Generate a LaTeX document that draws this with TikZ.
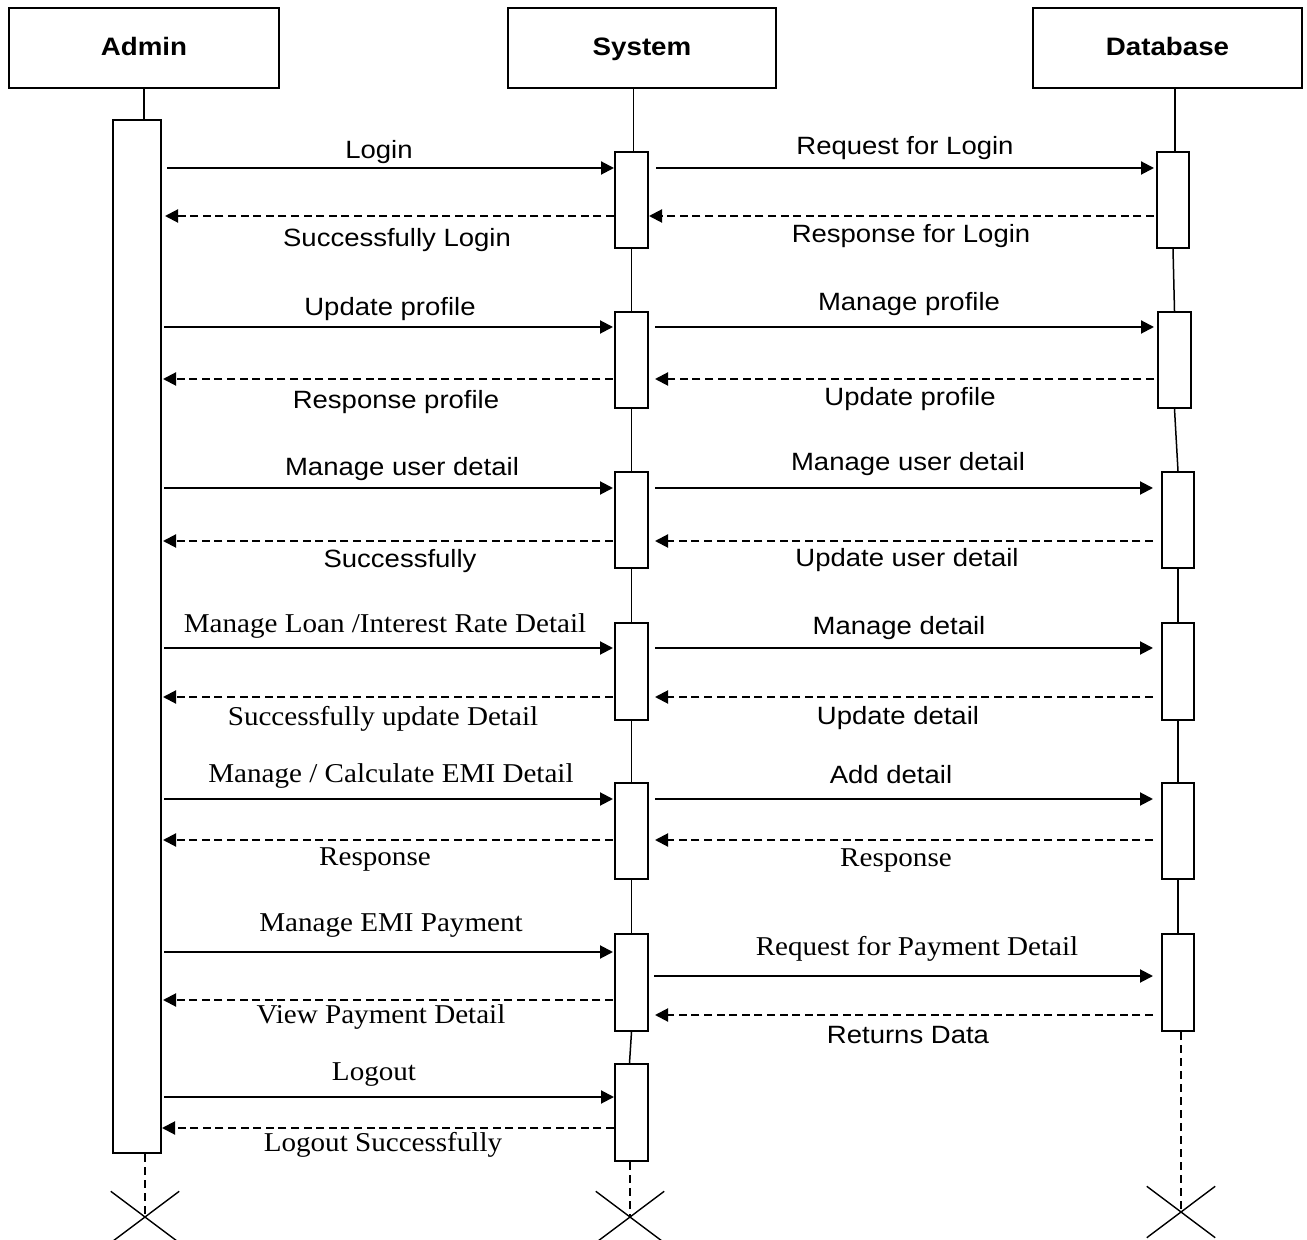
\documentclass[tikz,border=0pt]{standalone}
\usepackage{fontspec}
\setmainfont{Liberation Sans}
\newfontfamily\lsans[FakeStretch=1.1]{Liberation Sans}
\newfontfamily\lserif[FakeStretch=1.07]{Liberation Serif}
\usetikzlibrary{arrows.meta,shapes.misc}

\begin{document}
\begin{tikzpicture}[x=0.5pt,y=-0.5pt,
  actor/.style={draw,line width=1pt,minimum height=40pt,inner sep=0pt,
    text height=0.72em,text depth=0pt,
    font=\lsans\fontsize{12.6pt}{15pt}\selectfont\bfseries},
  act/.style={draw,line width=1pt,fill=white,inner sep=0pt,minimum width=16.5pt,minimum height=48pt},
  life/.style={line width=0.75pt},
  lifeend/.style={line width=0.8pt,dash pattern=on 4pt off 2.5pt},
  kill/.style={cross out,draw,line width=0.7pt,inner sep=0pt,minimum width=33.5pt,minimum height=25pt},
  call/.style={line width=1pt,-{Triangle[length=6.5pt,width=6.5pt]}},
  reply/.style={line width=1pt,dash pattern=on 4pt off 2.3pt,-{Triangle[length=6.5pt,width=6.5pt]}},
  sl/.style={inner sep=0pt,text height=0.72em,text depth=0pt,font=\lsans\fontsize{12.5pt}{15pt}\selectfont},
  tl/.style={inner sep=0pt,text height=0.66em,text depth=0pt,font=\lserif\fontsize{13.6pt}{16pt}\selectfont},
]
\useasboundingbox (0,0) rectangle (1307,1240);

% participants
\node[actor,minimum width=135pt]   (admin) at (144,48)    {Admin};
\node[actor,minimum width=134pt]   (sys)   at (642,48)    {System};
\node[actor,minimum width=134.5pt] (db)    at (1167.5,48) {Database};

% activation bars
\node[act,minimum width=24pt,minimum height=516.5pt] (aa) at (137,636.5) {};

\node[act] (s1) at (631.5,200) {};
\node[act] (s2) at (631.5,360) {};
\node[act] (s3) at (631.5,520) {};
\node[act,minimum height=48.5pt] (s4) at (631.5,671.5) {};
\node[act] (s5) at (631.5,831) {};
\node[act,minimum height=48.5pt] (s6) at (631.5,982.5) {};
\node[act,minimum height=48.5pt] (s7) at (631.5,1112.5) {};

\node[act,minimum width=16pt] (d1) at (1173,200) {};
\node[act] (d2) at (1174.5,360) {};
\node[act,minimum width=16pt] (d3) at (1178,520) {};
\node[act,minimum width=16pt,minimum height=48.5pt] (d4) at (1178,671.5) {};
\node[act,minimum width=16pt] (d5) at (1178,831) {};
\node[act,minimum width=16pt,minimum height=48.5pt] (d6) at (1178,982.5) {};

% destruction marks
\node[kill] (xa) at (145,1217) {};
\node[kill] (xs) at (630,1217) {};
\node[kill] (xd) at (1181,1212) {};

% lifelines
\draw[life] (admin.south) -- (admin.south |- aa.north);
\draw[life] ([xshift=1pt]s1.north) -- ([xshift=1pt]sys.south -| s1.north);
\draw[life] (s1.south) -- (s2.north);
\draw[life] (s2.south) -- (s3.north);
\draw[life] (s3.south) -- (s4.north);
\draw[life] (s4.south) -- (s5.north);
\draw[life] (s5.south) -- (s6.north);
\draw[life] (s6.south) -- ([xshift=-1pt]s7.north);
\draw[life] ([xshift=1pt]d1.north) -- ([xshift=1pt]db.south -| d1.north);
\draw[life] (d1.south) -- (d2.north);
\draw[life] (d2.south) -- (d3.north);
\draw[life] (d3.south) -- (d4.north);
\draw[life] (d4.south) -- (d5.north);
\draw[life] (d5.south) -- (d6.north);
\draw[lifeend] (xa |- aa.south) -- (xa.center);
\draw[lifeend] (xs |- s7.south) -- (xs.center);
\draw[lifeend] (xd |- d6.south) -- (xd.center);

% message rows
\coordinate (r1) at (0,168);  \coordinate (q1) at (0,216);
\coordinate (r2) at (0,327);  \coordinate (q2) at (0,379);
\coordinate (r3) at (0,488);  \coordinate (q3) at (0,541);
\coordinate (r4) at (0,648);  \coordinate (q4) at (0,697);
\coordinate (r5) at (0,799);  \coordinate (q5) at (0,840);
\coordinate (r6) at (0,952);  \coordinate (t6) at (0,976);
\coordinate (q6) at (0,1000); \coordinate (u6) at (0,1015);
\coordinate (r7) at (0,1097); \coordinate (q7) at (0,1128);

% Login
\draw[call,shorten <=2.5pt] (aa.east |- r1) -- (s1.west |- r1);
\draw[call,shorten <=3.5pt,shorten >=1pt] (s1.east |- r1) -- (d1.west |- r1);
\draw[reply,shorten >=1.5pt] (s1.west |- q1) -- (aa.east |- q1);
\draw[reply,shorten <=1pt] (d1.west |- q1) -- (s1.east |- q1);
% profile
\draw[call,shorten <=1pt,shorten >=0.5pt] (aa.east |- r2) -- (s2.west |- r2);
\draw[call,shorten <=3pt,shorten >=1.5pt] (s2.east |- r2) -- (d2.west |- r2);
\draw[reply,shorten <=0.5pt,shorten >=0.5pt] (s2.west |- q2) -- (aa.east |- q2);
\draw[reply,shorten <=1.5pt,shorten >=3pt] (d2.west |- q2) -- (s2.east |- q2);
% user detail
\draw[call,shorten <=1pt,shorten >=0.5pt] (aa.east |- r3) -- (s3.west |- r3);
\draw[call,shorten <=3pt,shorten >=4pt] (s3.east |- r3) -- (d3.west |- r3);
\draw[reply,shorten <=0.5pt,shorten >=0.5pt] (s3.west |- q3) -- (aa.east |- q3);
\draw[reply,shorten <=4pt,shorten >=3pt] (d3.west |- q3) -- (s3.east |- q3);
% loan / interest rate
\draw[call,shorten <=1pt,shorten >=0.5pt] (aa.east |- r4) -- (s4.west |- r4);
\draw[call,shorten <=3pt,shorten >=4pt] (s4.east |- r4) -- (d4.west |- r4);
\draw[reply,shorten <=0.5pt,shorten >=0.5pt] (s4.west |- q4) -- (aa.east |- q4);
\draw[reply,shorten <=4pt,shorten >=3pt] (d4.west |- q4) -- (s4.east |- q4);
% EMI
\draw[call,shorten <=1pt,shorten >=0.5pt] (aa.east |- r5) -- (s5.west |- r5);
\draw[call,shorten <=3pt,shorten >=4pt] (s5.east |- r5) -- (d5.west |- r5);
\draw[reply,shorten <=0.5pt,shorten >=0.5pt] (s5.west |- q5) -- (aa.east |- q5);
\draw[reply,shorten <=4pt,shorten >=3pt] (d5.west |- q5) -- (s5.east |- q5);
% payment
\draw[call,shorten <=1pt,shorten >=0.5pt] (aa.east |- r6) -- (s6.west |- r6);
\draw[call,shorten <=2.5pt,shorten >=4pt] (s6.east |- t6) -- (d6.west |- t6);
\draw[reply,shorten <=0.5pt,shorten >=0.5pt] (s6.west |- q6) -- (aa.east |- q6);
\draw[reply,shorten <=4pt,shorten >=3pt] (d6.west |- u6) -- (s6.east |- u6);
% logout
\draw[call,shorten <=1pt] (aa.east |- r7) -- (s7.west |- r7);
\draw[reply] (s7.west |- q7) -- (aa.east |- q7);

% labels
\node[sl] (l1)  at (379,151)  {Login};
\node[sl] (l2)  at (905,147)  {Request for Login};
\node[sl] (l3)  at (397,239)  {Successfully Login};
\node[sl] (l4)  at (911,235)  {Response for Login};
\node[sl] (l5)  at (390,308)  {Update profile};
\node[sl] (l6)  at (909,303)  {Manage profile};
\node[sl] (l7)  at (396,401)  {Response profile};
\node[sl] (l8)  at (910,398)  {Update profile};
\node[sl] (l9)  at (402,468)  {Manage user detail};
\node[sl] (l10) at (908,463)  {Manage user detail};
\node[sl] (l11) at (400,560)  {Successfully};
\node[sl] (l12) at (907,559)  {Update user detail};
\node[tl] (l13) at (385,626)  {Manage Loan /Interest Rate Detail};
\node[sl] (l14) at (899,627)  {Manage detail};
\node[tl] (l15) at (383,719)  {Successfully update Detail};
\node[sl] (l16) at (898,717)  {Update detail};
\node[tl] (l17) at (391,776)  {Manage / Calculate EMI Detail};
\node[sl] (l18) at (891,776)  {Add detail};
\node[tl] (l19) at (375,859)  {Response};
\node[tl] (l20) at (896,860)  {Response};
\node[tl] (l21) at (391,925)  {Manage EMI Payment};
\node[tl] (l22) at (917,949)  {Request for Payment Detail};
\node[tl] (l23) at (381,1017) {View Payment Detail};
\node[sl] (l24) at (908,1036) {Returns Data};
\node[tl] (l25) at (374,1074) {Logout};
\node[tl] (l26) at (383,1145) {Logout Successfully};
\end{tikzpicture}
\end{document}
